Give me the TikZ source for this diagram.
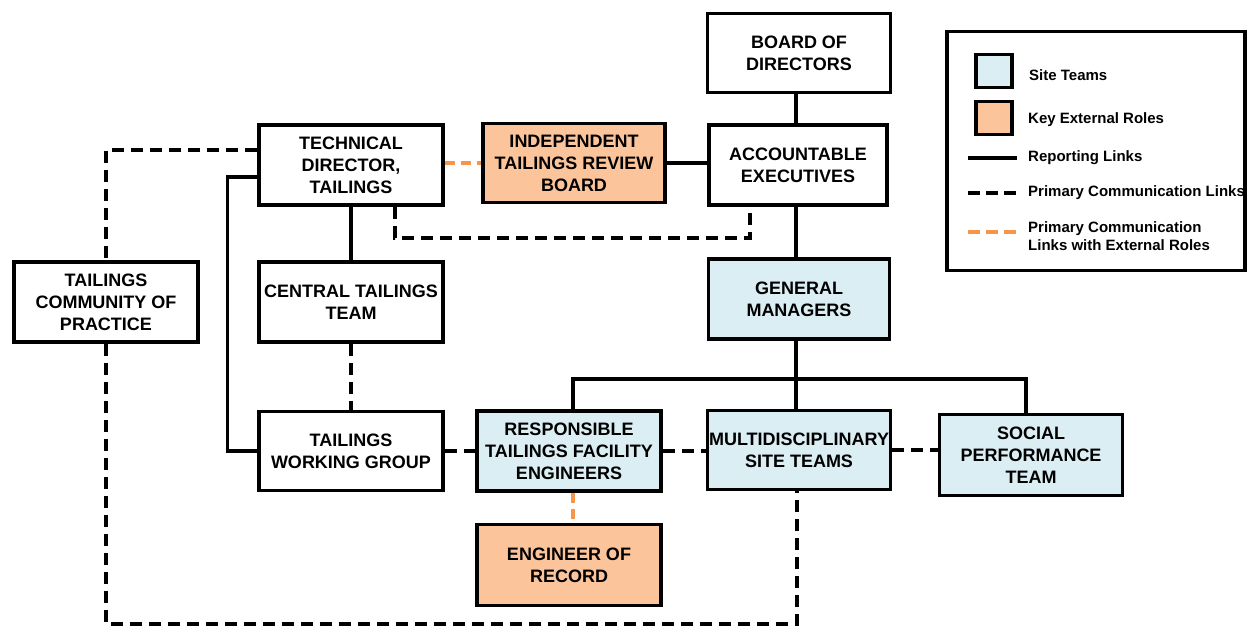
\documentclass[tikz,border=0pt]{standalone}
\usepackage{fontspec}
\setmainfont{Liberation Sans}
\definecolor{siteblue}{HTML}{DBEEF4}
\definecolor{extorange}{HTML}{FBC49A}
\definecolor{dashorange}{HTML}{F7964A}
\begin{document}
\begin{tikzpicture}[x=1pt,y=-1pt,
  box/.style={draw=black, line width=3.5pt, align=center, inner sep=0pt,
    font=\bfseries\fontsize{18}{22}\selectfont, minimum width=184pt, minimum height=80pt},
  site/.style={box, fill=siteblue},
  extrole/.style={box, fill=extorange},
  rep/.style={line width=3.5pt},
  comm/.style={line width=3.5pt, dash pattern=on 12pt off 7pt},
  extcomm/.style={line width=3.5pt, dash pattern=on 10pt off 6pt, draw=dashorange},
  legtext/.style={anchor=west, align=left, inner sep=0pt, font=\bfseries\fontsize{15}{18}\selectfont},
  swatch/.style={draw=black, line width=3.5pt, minimum width=36pt, minimum height=33pt, inner sep=0pt}
]
\useasboundingbox (0,0) rectangle (1248,627);

% boxes
\node[box, minimum width=183pt, minimum height=79pt] (bod) at (799,53) {BOARD OF\\DIRECTORS};
\node[box, minimum width=178pt] (ae) at (798,165) {ACCOUNTABLE\\EXECUTIVES};
\node[extrole, minimum width=182pt, minimum height=79pt] (itrb) at (574,163) {INDEPENDENT\\TAILINGS REVIEW\\BOARD};
\node[box] (td) at (351,165) {TECHNICAL\\DIRECTOR,\\TAILINGS};
\node[box] (tcop) at (106,302) {TAILINGS\\COMMUNITY OF\\PRACTICE};
\node[box] (ctt) at (351,302) {CENTRAL TAILINGS\\TEAM};
\node[site, minimum width=181pt] (gm) at (799,299) {GENERAL\\MANAGERS};
\node[box, minimum height=79pt] (twg) at (351,451) {TAILINGS\\WORKING GROUP};
\node[site] (rtfe) at (569,451) {RESPONSIBLE\\TAILINGS FACILITY\\ENGINEERS};
\node[site, minimum width=183pt, minimum height=79pt] (mst) at (799,450) {MULTIDISCIPLINARY\\SITE TEAMS};
\node[site, minimum width=183pt, minimum height=81pt] (spt) at (1031,455) {SOCIAL\\PERFORMANCE\\TEAM};
\node[extrole, minimum height=81pt] (eor) at (569,565) {ENGINEER OF\\RECORD};

% reporting links
\draw[rep] ([xshift=-3pt]bod.south) -- ([xshift=-3pt]bod.south |- ae.north);
\draw[rep] (itrb.east) -- (itrb.east -| ae.west);
\draw[rep] (td.south) -- (ctt.north);
\draw[rep] ([yshift=-12pt]td.west) -- ++(-30,0) |- (twg.west);
\draw[rep] ([xshift=-2pt]ae.south) -- ([xshift=-2pt]ae.south |- gm.north);
\draw[rep] ([xshift=-3pt]gm.south) -- ++(0,38) coordinate (gmj);
\draw[rep] ([xshift=4pt]rtfe.north) |- (gmj) -| ([xshift=-5pt]spt.north);
\draw[rep] ([xshift=-3pt]mst.north) -- ([xshift=-3pt]mst.north |- gmj);

% communication links
\draw[comm] ([yshift=15pt]td.west) -| (tcop.north);
\draw[comm] ([xshift=44pt]td.south) -- ++(0,31) coordinate (tdj) -| ([xshift=-48pt]ae.south);
\draw[comm] (ctt.south) -- (twg.north);
\draw[comm] (twg.east) -- (rtfe.west);
\draw[comm] (rtfe.east) -- (rtfe.east -| mst.west);
\draw[comm] (mst.east) -- (mst.east -| spt.west);
\draw[comm] (tcop.south) -- (tcop.south |- 0,624) -| ([xshift=-2pt]mst.south);

% external communication links
\draw[extcomm] (td.east |- itrb.west) -- (itrb.west);
\draw[extcomm] ([xshift=4pt]rtfe.south) -- ([xshift=4pt]eor.north);

% legend
\node[draw=black, line width=3.5pt, minimum width=298pt, minimum height=239pt, inner sep=0pt] (legend) at (1096,151) {};
\node[swatch, fill=siteblue] (sw1) at (994,71) {};
\node[swatch, fill=extorange] (sw2) at (994,118) {};
\node[legtext] (lt1) at (1029,75) {Site Teams};
\node[legtext] (lt2) at (1028,120) {Key External Roles};
\node[legtext] (lt3) at (1028,158) {Reporting Links};
\node[legtext] (lt4) at (1028,193) {Primary Communication Links};
\node[legtext] (lt5) at (1028,236) {Primary Communication\\Links with External Roles};
\coordinate (l1a) at (968,158); \coordinate (l1b) at (1017,158);
\coordinate (l2a) at (968,193); \coordinate (l2b) at (1017,193);
\coordinate (l3a) at (968,232); \coordinate (l3b) at (1017,232);
\draw[rep] (l1a) -- (l1b);
\draw[line width=3.5pt, dash pattern=on 12pt off 6pt] (l2a) -- (l2b);
\draw[extcomm, dash pattern=on 12pt off 6pt] (l3a) -- (l3b);
\end{tikzpicture}
\end{document}
